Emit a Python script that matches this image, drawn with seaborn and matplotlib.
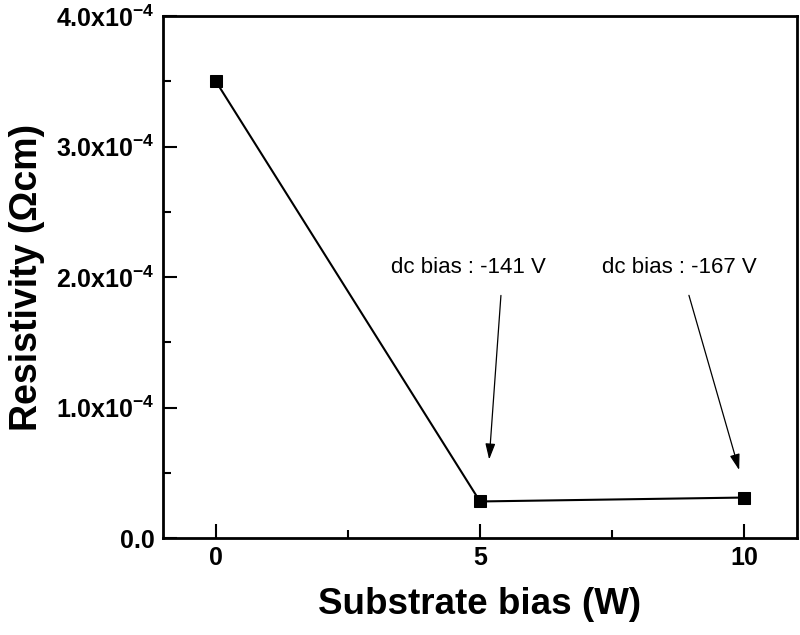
import matplotlib
matplotlib.use("Agg")
import matplotlib.pyplot as plt
import seaborn as sns
import pandas as pd
from matplotlib.ticker import MultipleLocator

bias_w = [0, 5, 10]
resistivity = [3.5e-4, 2.8e-5, 3.1e-5]
y_ticks = [0.0, 1.0e-4, 2.0e-4, 3.0e-4, 4.0e-4]
y_tick_labels = ["0.0", "1.0x10$^{-4}$", "2.0x10$^{-4}$", "3.0x10$^{-4}$", "4.0x10$^{-4}$"]
x_ticks = [0, 5, 10]
notes = ["dc bias : -141 V", "dc bias : -167 V"]

sns.set_theme(style="ticks")
plt.rcParams['font.family'] = ['Liberation Sans', 'DejaVu Sans']
plt.rcParams['mathtext.fontset'] = 'custom'
plt.rcParams['mathtext.rm'] = 'Liberation Sans:bold'
plt.rcParams['mathtext.default'] = 'rm'
plt.rcParams['text.color'] = 'black'
plt.rcParams['axes.labelcolor'] = 'black'

df = pd.DataFrame({"bias": bias_w, "res": resistivity})

fig = plt.figure(figsize=(8, 6.35), dpi=100)
ax = fig.add_axes([163/800, 1-538/635, (797-163)/800, (538-16)/635])

sns.lineplot(data=df, x="bias", y="res", ax=ax, color="black", lw=1.5,
             marker="s", markersize=9, markeredgecolor="black",
             markerfacecolor="black")

ax.set_xlim(-1, 11)
ax.set_ylim(0, 4e-4)
ax.set_xticks(x_ticks)
ax.set_xticklabels([str(v) for v in x_ticks])
ax.xaxis.set_minor_locator(MultipleLocator(2.5))
ax.set_yticks(y_ticks)
ax.set_yticklabels(y_tick_labels)
ax.yaxis.set_minor_locator(MultipleLocator(0.5e-4))

for s in ax.spines.values():
    s.set_visible(True)
    s.set_linewidth(2)
    s.set_color("black")

ax.tick_params(which="both", direction="in", width=1.5, colors="black",
               labelcolor="black", top=False, right=False)
ax.tick_params(which="major", length=10, labelsize=18, pad=6)
ax.tick_params(which="minor", length=6)
for lab in ax.get_xticklabels() + ax.get_yticklabels():
    lab.set_fontweight("bold")

ax.set_xlabel("Substrate bias (W)", fontsize=26.5, fontweight="bold", labelpad=12)
ax.set_ylabel("Resistivity (Ωcm)", fontsize=27, fontweight="bold", labelpad=8)

ax.text(4.79, 2.07e-4, notes[0], fontsize=16, ha="center", va="center")
ax.text(8.77, 2.07e-4, notes[1], fontsize=16, ha="center", va="center")
arrow = dict(arrowstyle="-|>,head_length=0.8,head_width=0.25", color="black", lw=0.9)
ax.annotate("", xy=(5.17, 0.58e-4), xytext=(5.40, 1.88e-4), arrowprops=arrow)
ax.annotate("", xy=(9.92, 0.50e-4), xytext=(8.94, 1.88e-4), arrowprops=arrow)

fig.savefig("out.png", dpi=100)
